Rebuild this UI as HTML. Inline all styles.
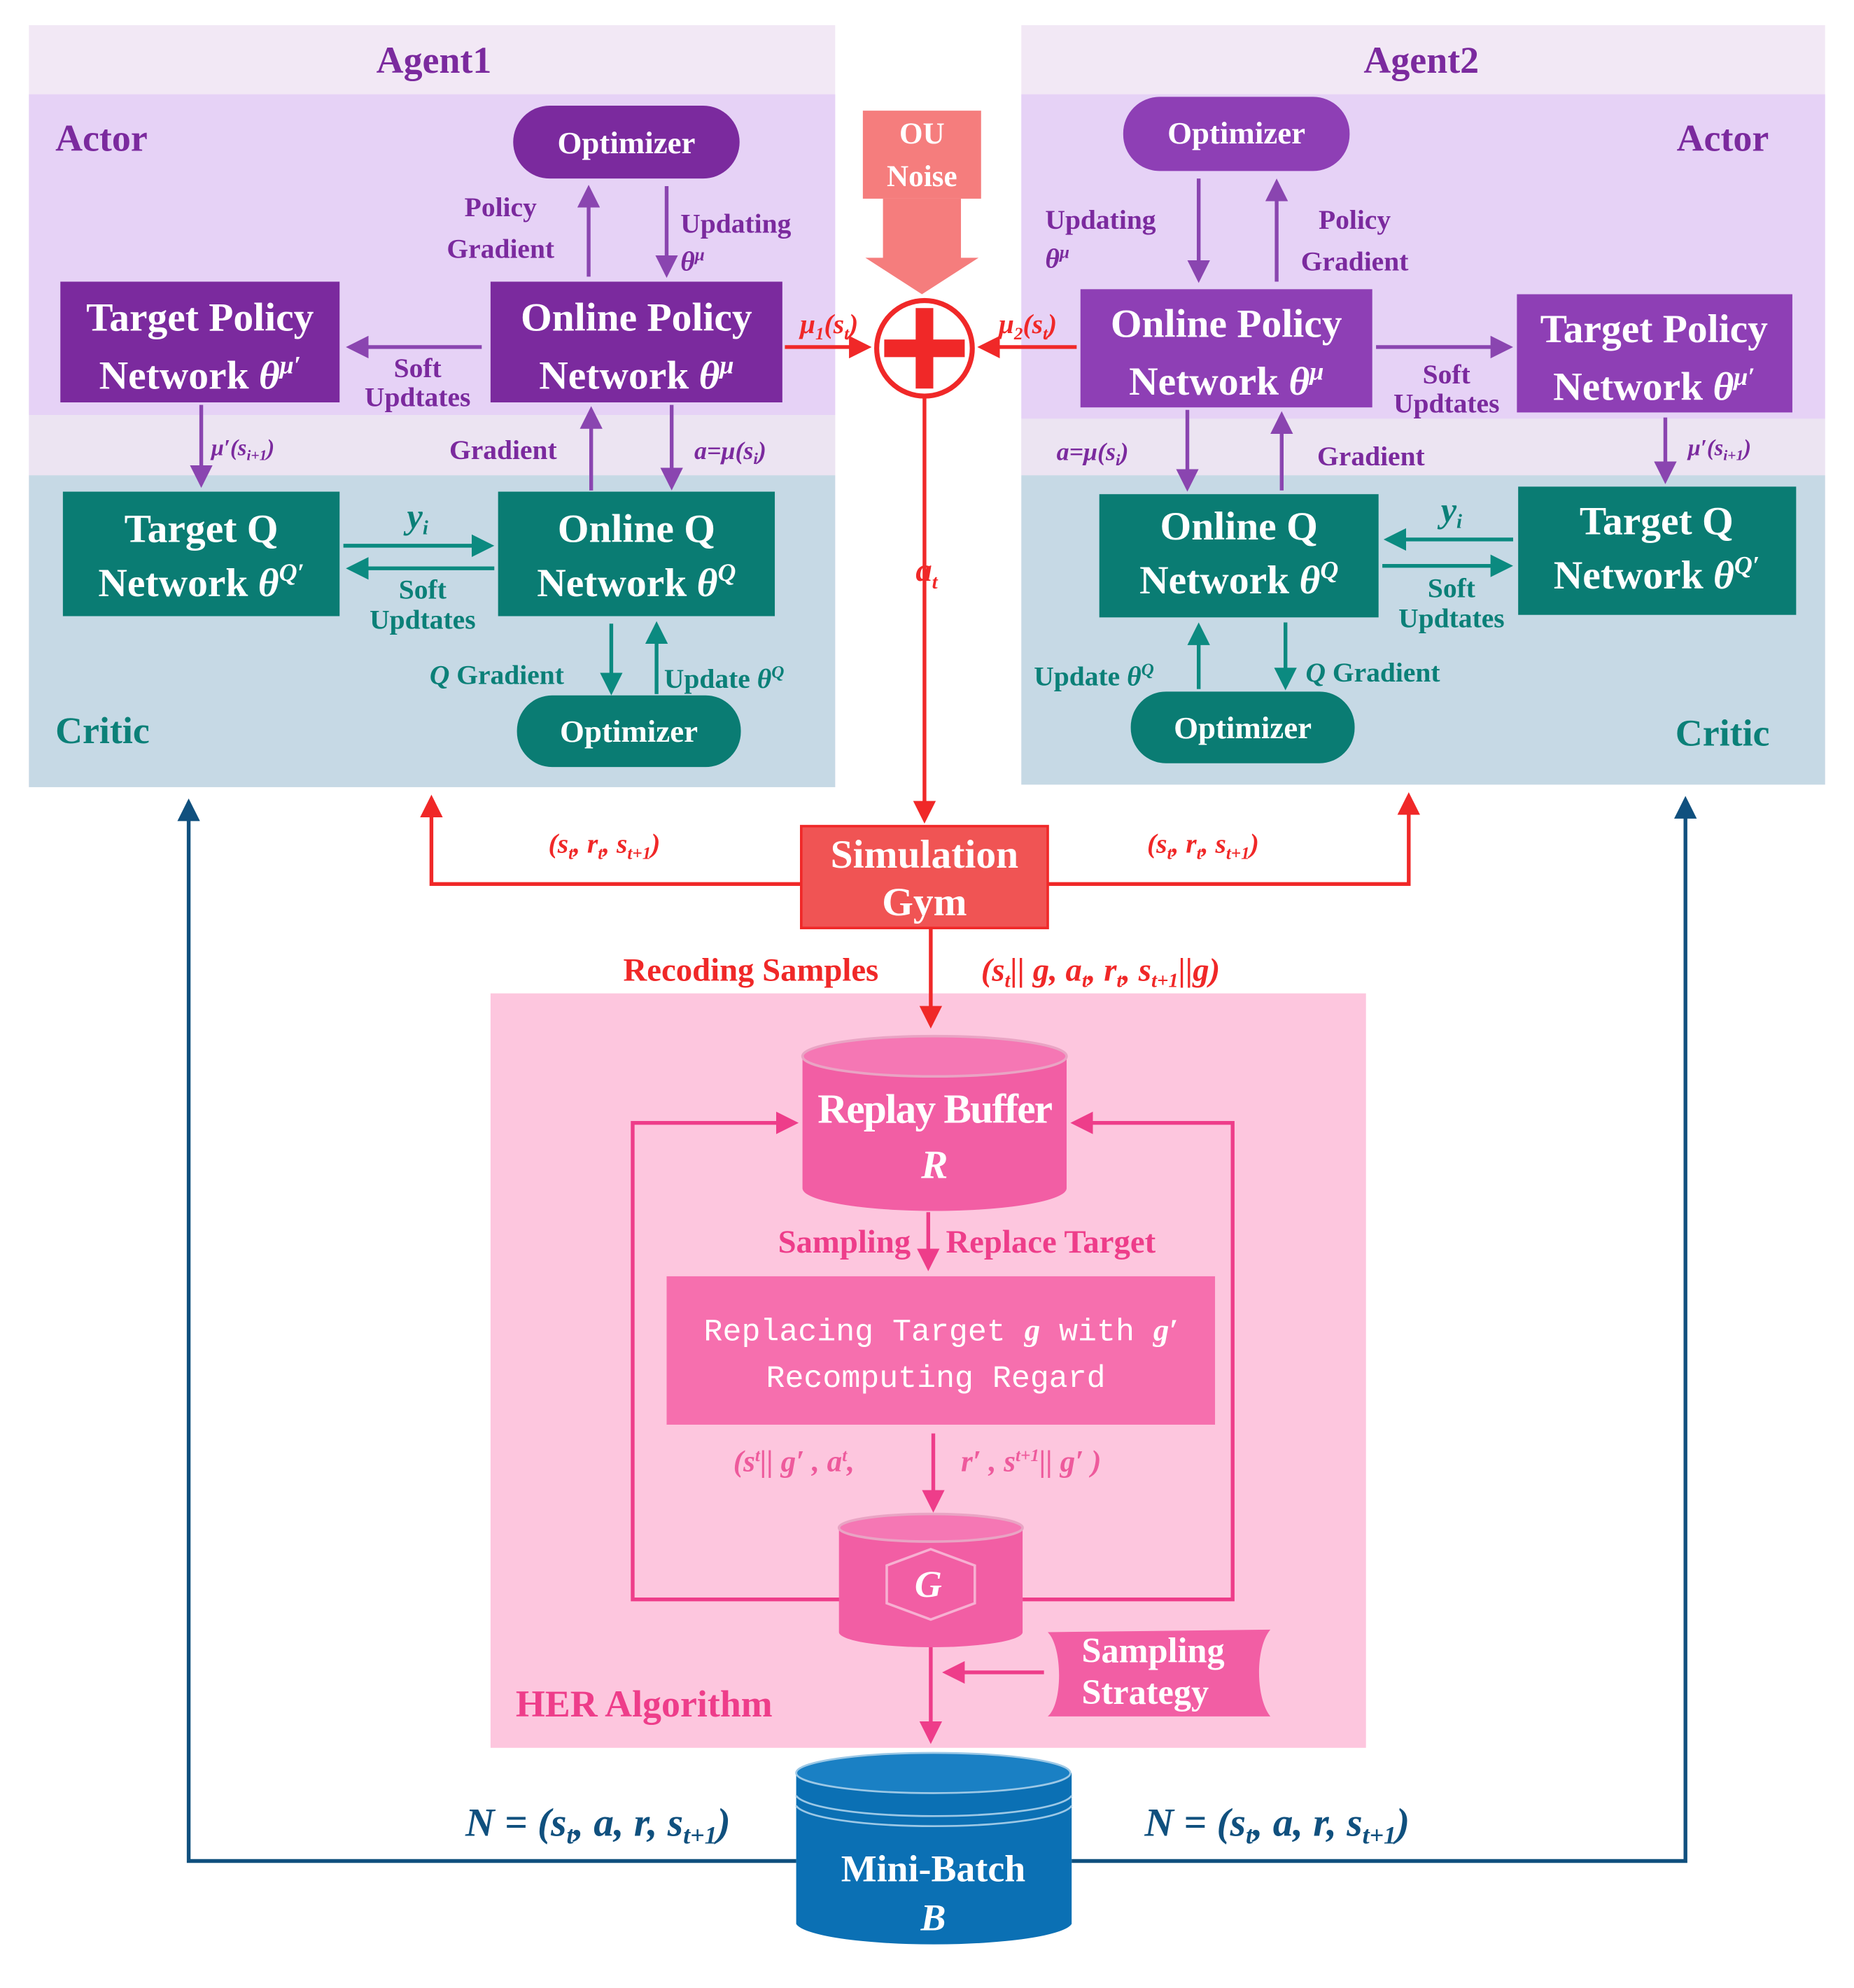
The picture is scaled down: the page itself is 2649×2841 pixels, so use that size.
<!DOCTYPE html>
<html><head><meta charset="utf-8"><style>html,body{margin:0;padding:0;background:#fff}svg{display:block}</style></head>
<body>
<svg width="2649" height="2841" viewBox="0 0 1474 1581" preserveAspectRatio="none" xmlns="http://www.w3.org/2000/svg" font-family="Liberation Serif, serif" font-weight="bold">
<defs>
<marker id="ap" markerWidth="6" markerHeight="6" refX="5" refY="3" orient="auto" markerUnits="strokeWidth"><path d="M0,0 L6,3 L0,6z" fill="#8a45b0"/></marker>
<marker id="at" markerWidth="6" markerHeight="6" refX="5" refY="3" orient="auto" markerUnits="strokeWidth"><path d="M0,0 L6,3 L0,6z" fill="#0b8a80"/></marker>
<marker id="ar" markerWidth="6" markerHeight="6" refX="5" refY="3" orient="auto" markerUnits="strokeWidth"><path d="M0,0 L6,3 L0,6z" fill="#f02828"/></marker>
<marker id="ak" markerWidth="6" markerHeight="6" refX="5" refY="3" orient="auto" markerUnits="strokeWidth"><path d="M0,0 L6,3 L0,6z" fill="#ee3d8a"/></marker>
<marker id="ab" markerWidth="6" markerHeight="6" refX="5" refY="3" orient="auto" markerUnits="strokeWidth"><path d="M0,0 L6,3 L0,6z" fill="#10507e"/></marker>
</defs>

<rect x="23" y="20" width="641" height="606" fill="#f2e8f5"/>
<rect x="23" y="75" width="641" height="255" fill="#e6d2f6"/>
<rect x="23" y="330" width="641" height="48" fill="#ece4f2"/>
<rect x="23" y="378" width="641" height="248" fill="#c6d9e5"/>
<rect x="812" y="20" width="639" height="604" fill="#f2e8f5"/>
<rect x="812" y="75" width="639" height="258" fill="#e6d2f6"/>
<rect x="812" y="333" width="639" height="45" fill="#ece4f2"/>
<rect x="812" y="378" width="639" height="246" fill="#c6d9e5"/>

<g font-size="30" fill="#7b2a9e">
<text x="345" y="58" text-anchor="middle">Agent1</text>
<text x="1130" y="58" text-anchor="middle">Agent2</text>
<text x="44" y="120">Actor</text>
<text x="1333" y="120">Actor</text>
</g>
<g font-size="30" fill="#0b8078">
<text x="44" y="591">Critic</text>
<text x="1332" y="593">Critic</text>
</g>

<rect x="408" y="84" width="180" height="58" rx="29" fill="#7b2a9e"/>
<text x="498" y="122" text-anchor="middle" fill="#fff" font-size="25">Optimizer</text>
<rect x="48" y="224" width="222" height="96" fill="#7b2a9e"/>
<text x="159" y="263" text-anchor="middle" fill="#fff" font-size="32">Target Policy</text>
<text x="159" y="309" text-anchor="middle" fill="#fff" font-size="32">Network <tspan font-style="italic">θ<tspan font-size="20" dy="-12">μ′</tspan></tspan></text>
<rect x="390" y="224" width="232" height="96" fill="#7b2a9e"/>
<text x="506" y="263" text-anchor="middle" fill="#fff" font-size="32">Online Policy</text>
<text x="506" y="309" text-anchor="middle" fill="#fff" font-size="32">Network <tspan font-style="italic">θ<tspan font-size="20" dy="-12">μ</tspan></tspan></text>
<g stroke="#8a45b0" stroke-width="3" fill="none">
<line x1="468" y1="220" x2="468" y2="150" marker-end="url(#ap)"/>
<line x1="530" y1="148" x2="530" y2="218" marker-end="url(#ap)"/>
<line x1="383" y1="276" x2="278" y2="276" marker-end="url(#ap)"/>
<line x1="160" y1="322" x2="160" y2="385" marker-end="url(#ap)"/>
<line x1="470" y1="390" x2="470" y2="326" marker-end="url(#ap)"/>
<line x1="534" y1="322" x2="534" y2="387" marker-end="url(#ap)"/>
</g>
<g fill="#7b2a9e" font-size="22">
<text x="398" y="172" text-anchor="middle">Policy</text>
<text x="398" y="205" text-anchor="middle">Gradient</text>
<text x="541" y="185">Updating</text>
<text x="541" y="215" font-style="italic">θ<tspan font-size="14" dy="-8">μ</tspan></text>
<text x="332" y="300" text-anchor="middle">Soft</text>
<text x="332" y="323" text-anchor="middle">Updtates</text>
<text x="168" y="362" font-style="italic" font-size="18">μ′(s<tspan font-size="12" dy="4">i+1</tspan><tspan dy="-4">)</tspan></text>
<text x="400" y="365" text-anchor="middle">Gradient</text>
<text x="552" y="365" font-style="italic" font-size="20">a=μ(s<tspan font-size="13" dy="4">i</tspan><tspan dy="-4">)</tspan></text>
</g>
<rect x="50" y="391" width="220" height="99" fill="#0a7c73"/>
<text x="160" y="431" text-anchor="middle" fill="#fff" font-size="32">Target Q</text>
<text x="160" y="474" text-anchor="middle" fill="#fff" font-size="32">Network <tspan font-style="italic">θ<tspan font-size="20" dy="-12">Q′</tspan></tspan></text>
<rect x="396" y="391" width="220" height="99" fill="#0a7c73"/>
<text x="506" y="431" text-anchor="middle" fill="#fff" font-size="32">Online Q</text>
<text x="506" y="474" text-anchor="middle" fill="#fff" font-size="32">Network <tspan font-style="italic">θ<tspan font-size="20" dy="-12">Q</tspan></tspan></text>
<rect x="411" y="553" width="178" height="57" rx="28" fill="#0a7c73"/>
<text x="500" y="590" text-anchor="middle" fill="#fff" font-size="25">Optimizer</text>
<g stroke="#0b8a80" stroke-width="3" fill="none">
<line x1="273" y1="434" x2="390" y2="434" marker-end="url(#at)"/>
<line x1="393" y1="452" x2="278" y2="452" marker-end="url(#at)"/>
<line x1="486" y1="496" x2="486" y2="550" marker-end="url(#at)"/>
<line x1="522" y1="552" x2="522" y2="497" marker-end="url(#at)"/>
</g>
<g fill="#0b8078" font-size="22">
<text x="332" y="420" text-anchor="middle" font-style="italic" font-size="28">y<tspan font-size="16" dy="5">i</tspan></text>
<text x="336" y="476" text-anchor="middle">Soft</text>
<text x="336" y="500" text-anchor="middle">Updtates</text>
<text x="395" y="544" text-anchor="middle"><tspan font-style="italic">Q</tspan> Gradient</text>
<text x="528" y="547">Update <tspan font-style="italic">θ<tspan font-size="14" dy="-8">Q</tspan></tspan></text>
</g>

<rect x="893" y="77" width="180" height="59" rx="29" fill="#8e3fb5"/>
<text x="983" y="114" text-anchor="middle" fill="#fff" font-size="25">Optimizer</text>
<rect x="859" y="230" width="232" height="94" fill="#8e3fb5"/>
<text x="975" y="268" text-anchor="middle" fill="#fff" font-size="32">Online Policy</text>
<text x="975" y="314" text-anchor="middle" fill="#fff" font-size="32">Network <tspan font-style="italic">θ<tspan font-size="20" dy="-12">μ</tspan></tspan></text>
<rect x="1206" y="234" width="219" height="94" fill="#8e3fb5"/>
<text x="1315" y="272" text-anchor="middle" fill="#fff" font-size="32">Target Policy</text>
<text x="1315" y="318" text-anchor="middle" fill="#fff" font-size="32">Network <tspan font-style="italic">θ<tspan font-size="20" dy="-12">μ′</tspan></tspan></text>
<g stroke="#8a45b0" stroke-width="3" fill="none">
<line x1="953" y1="142" x2="953" y2="222" marker-end="url(#ap)"/>
<line x1="1015" y1="224" x2="1015" y2="145" marker-end="url(#ap)"/>
<line x1="1094" y1="276" x2="1200" y2="276" marker-end="url(#ap)"/>
<line x1="1324" y1="332" x2="1324" y2="382" marker-end="url(#ap)"/>
<line x1="944" y1="326" x2="944" y2="388" marker-end="url(#ap)"/>
<line x1="1019" y1="390" x2="1019" y2="330" marker-end="url(#ap)"/>
</g>
<g fill="#7b2a9e" font-size="22">
<text x="831" y="182">Updating</text>
<text x="831" y="213" font-style="italic">θ<tspan font-size="14" dy="-8">μ</tspan></text>
<text x="1077" y="182" text-anchor="middle">Policy</text>
<text x="1077" y="215" text-anchor="middle">Gradient</text>
<text x="1150" y="305" text-anchor="middle">Soft</text>
<text x="1150" y="328" text-anchor="middle">Updtates</text>
<text x="1342" y="362" font-style="italic" font-size="18">μ′(s<tspan font-size="12" dy="4">i+1</tspan><tspan dy="-4">)</tspan></text>
<text x="840" y="366" font-style="italic" font-size="20">a=μ(s<tspan font-size="13" dy="4">i</tspan><tspan dy="-4">)</tspan></text>
<text x="1090" y="370" text-anchor="middle">Gradient</text>
</g>
<rect x="874" y="393" width="222" height="98" fill="#0a7c73"/>
<text x="985" y="429" text-anchor="middle" fill="#fff" font-size="32">Online Q</text>
<text x="985" y="472" text-anchor="middle" fill="#fff" font-size="32">Network <tspan font-style="italic">θ<tspan font-size="20" dy="-12">Q</tspan></tspan></text>
<rect x="1207" y="387" width="221" height="102" fill="#0a7c73"/>
<text x="1317" y="425" text-anchor="middle" fill="#fff" font-size="32">Target Q</text>
<text x="1317" y="468" text-anchor="middle" fill="#fff" font-size="32">Network <tspan font-style="italic">θ<tspan font-size="20" dy="-12">Q′</tspan></tspan></text>
<rect x="899" y="550" width="178" height="57" rx="28" fill="#0a7c73"/>
<text x="988" y="587" text-anchor="middle" fill="#fff" font-size="25">Optimizer</text>
<g stroke="#0b8a80" stroke-width="3" fill="none">
<line x1="1203" y1="429" x2="1103" y2="429" marker-end="url(#at)"/>
<line x1="1099" y1="450" x2="1200" y2="450" marker-end="url(#at)"/>
<line x1="953" y1="548" x2="953" y2="498" marker-end="url(#at)"/>
<line x1="1022" y1="495" x2="1022" y2="546" marker-end="url(#at)"/>
</g>
<g fill="#0b8078" font-size="22">
<text x="1154" y="415" text-anchor="middle" font-style="italic" font-size="28">y<tspan font-size="16" dy="5">i</tspan></text>
<text x="1154" y="475" text-anchor="middle">Soft</text>
<text x="1154" y="499" text-anchor="middle">Updtates</text>
<text x="822" y="545">Update <tspan font-style="italic">θ<tspan font-size="14" dy="-8">Q</tspan></tspan></text>
<text x="1038" y="542"><tspan font-style="italic">Q</tspan> Gradient</text>
</g>

<rect x="686" y="88" width="94" height="70" fill="#f57d7d"/>
<text x="733" y="114" text-anchor="middle" fill="#fff" font-size="24">OU</text>
<text x="733" y="148" text-anchor="middle" fill="#fff" font-size="24">Noise</text>
<path d="M702,158 H764 V205 H778 L733,234 L688,205 H702Z" fill="#f57d7d"/>
<circle cx="735" cy="277" r="38" fill="#fff" stroke="#f02828" stroke-width="4"/>
<rect x="703" y="270" width="64" height="14" fill="#f02828"/>
<rect x="728" y="245" width="14" height="64" fill="#f02828"/>
<g stroke="#f02828" stroke-width="3" fill="none">
<line x1="624" y1="276" x2="690" y2="276" marker-end="url(#ar)"/>
<line x1="856" y1="276" x2="780" y2="276" marker-end="url(#ar)"/>
<line x1="735" y1="315" x2="735" y2="652" marker-end="url(#ar)"/>
<polyline points="637,703 343,703 343,635" marker-end="url(#ar)"/>
<polyline points="833,703 1120,703 1120,633" marker-end="url(#ar)"/>
</g>
<g fill="#f02828" font-style="italic" font-size="22">
<text x="636" y="265">μ<tspan font-size="14" dy="5">1</tspan><tspan dy="-5">(s</tspan><tspan font-size="14" dy="5">t</tspan><tspan dy="-5">)</tspan></text>
<text x="794" y="265">μ<tspan font-size="14" dy="5">2</tspan><tspan dy="-5">(s</tspan><tspan font-size="14" dy="5">t</tspan><tspan dy="-5">)</tspan></text>
<text x="728" y="462" font-size="26">a<tspan font-size="16" dy="6">t</tspan></text>
<text x="436" y="678">(s<tspan font-size="14" dy="5">t</tspan><tspan dy="-5">, r</tspan><tspan font-size="14" dy="5">t</tspan><tspan dy="-5">, s</tspan><tspan font-size="14" dy="5">t+1</tspan><tspan dy="-5">)</tspan></text>
<text x="912" y="678">(s<tspan font-size="14" dy="5">t</tspan><tspan dy="-5">, r</tspan><tspan font-size="14" dy="5">t</tspan><tspan dy="-5">, s</tspan><tspan font-size="14" dy="5">t+1</tspan><tspan dy="-5">)</tspan></text>
<text x="780" y="780" font-size="26">(s<tspan font-size="16" dy="5">t</tspan><tspan dy="-5">|| g, a</tspan><tspan font-size="16" dy="5">t</tspan><tspan dy="-5">, r</tspan><tspan font-size="16" dy="5">t</tspan><tspan dy="-5">, s</tspan><tspan font-size="16" dy="5">t+1</tspan><tspan dy="-5">||g)</tspan></text>
</g>
<rect x="637" y="657" width="196" height="81" fill="#f05454" stroke="#f02828" stroke-width="2"/>
<text x="735" y="690" text-anchor="middle" fill="#fff" font-size="32">Simulation</text>
<text x="735" y="728" text-anchor="middle" fill="#fff" font-size="32">Gym</text>
<text x="597" y="780" text-anchor="middle" fill="#f02828" font-size="26">Recoding Samples</text>

<rect x="390" y="790" width="696" height="600" fill="#fdc6de"/>
<line x1="740" y1="738" x2="740" y2="815" stroke="#f02828" stroke-width="3" marker-end="url(#ar)"/>
<g stroke="#ee3d8a" stroke-width="3" fill="none">
<polyline points="668,1272 503,1272 503,893 632,893" marker-end="url(#ak)"/>
<polyline points="813,1272 980,1272 980,893 854,893" marker-end="url(#ak)"/>
<line x1="738" y1="964" x2="738" y2="1008" marker-end="url(#ak)"/>
<line x1="742" y1="1140" x2="742" y2="1200" marker-end="url(#ak)"/>
<line x1="740" y1="1310" x2="740" y2="1384" marker-end="url(#ak)"/>
<line x1="830" y1="1330" x2="752" y2="1330" marker-end="url(#ak)"/>
</g>
<path d="M638,840 V945 A105,18 0 0 0 848,945 V840 Z" fill="#f25ea4"/>
<ellipse cx="743" cy="840" rx="105" ry="16" fill="#f577b4" stroke="#e9a4c4" stroke-width="2"/>
<text x="743" y="893" text-anchor="middle" fill="#fff" font-size="33" letter-spacing="-1">Replay Buffer</text>
<text x="743" y="937" text-anchor="middle" fill="#fff" font-size="32" font-style="italic">R</text>
<g fill="#ee3d8a" font-size="26">
<text x="724" y="996" text-anchor="end">Sampling</text>
<text x="752" y="996">Replace Target</text>
</g>
<rect x="530" y="1015" width="436" height="118" fill="#f66fae"/>
<g fill="#fff" font-family="Liberation Mono, monospace" font-weight="normal" font-size="25">
<text x="748" y="1066" text-anchor="middle">Replacing Target <tspan font-family="Liberation Serif, serif" font-style="italic" font-weight="bold">g</tspan> with <tspan font-family="Liberation Serif, serif" font-style="italic" font-weight="bold">g′</tspan></text>
<text x="744" y="1103" text-anchor="middle">Recomputing Regard</text>
</g>
<g fill="#ee5a9c" font-style="italic" font-size="24">
<text x="583" y="1170">(s<tspan font-size="14" dy="-8">t</tspan><tspan dy="8">|| g′ , a</tspan><tspan font-size="14" dy="-8">t</tspan><tspan dy="8">,</tspan></text>
<text x="764" y="1170">r′ , s<tspan font-size="14" dy="-8">t+1</tspan><tspan dy="8">|| g′ )</tspan></text>
</g>
<path d="M667,1215 V1298 A73,12 0 0 0 813,1298 V1215 Z" fill="#f25ea4"/>
<ellipse cx="740" cy="1215" rx="73" ry="11" fill="#f577b4" stroke="#e9a4c4" stroke-width="2"/>
<path d="M705,1245 L740,1232 L775,1245 L775,1275 L740,1288 L705,1275Z" fill="none" stroke="#f7b0d2" stroke-width="2"/>
<text x="738" y="1270" text-anchor="middle" fill="#fff" font-size="30" font-style="italic">G</text>
<path d="M833,1298 C845,1310 845,1355 833,1365 H1010 C998,1350 998,1310 1010,1296 Z" fill="#f25ea4"/>
<text x="860" y="1322" fill="#fff" font-size="28">Sampling</text>
<text x="860" y="1355" fill="#fff" font-size="28">Strategy</text>
<text x="410" y="1365" fill="#ee3d8a" font-size="30">HER Algorithm</text>

<g stroke="#10507e" stroke-width="3" fill="none">
<polyline points="633,1480 150,1480 150,638" marker-end="url(#ab)"/>
<polyline points="852,1480 1340,1480 1340,636" marker-end="url(#ab)"/>
</g>
<path d="M633,1410 V1530 A110,18 0 0 0 852,1530 V1410 Z" fill="#0b70b4"/>
<ellipse cx="742" cy="1410" rx="109" ry="16" fill="#1a80c4" stroke="#9cc8e6" stroke-width="1.5"/>
<path d="M633,1428 A110,18 0 0 0 852,1428 M633,1436 A110,18 0 0 0 852,1436" stroke="#9cc8e6" stroke-width="1.5" fill="none"/>
<text x="742" y="1496" text-anchor="middle" fill="#fff" font-size="30">Mini-Batch</text>
<text x="742" y="1535" text-anchor="middle" fill="#fff" font-size="30" font-style="italic">B</text>
<g fill="#10507e" font-style="italic" font-size="32">
<text x="370" y="1460">N = (s<tspan font-size="20" dy="6">t</tspan><tspan dy="-6">, a, r, s</tspan><tspan font-size="20" dy="6">t+1</tspan><tspan dy="-6">)</tspan></text>
<text x="910" y="1460">N = (s<tspan font-size="20" dy="6">t</tspan><tspan dy="-6">, a, r, s</tspan><tspan font-size="20" dy="6">t+1</tspan><tspan dy="-6">)</tspan></text>
</g>
</svg>
</body></html>
